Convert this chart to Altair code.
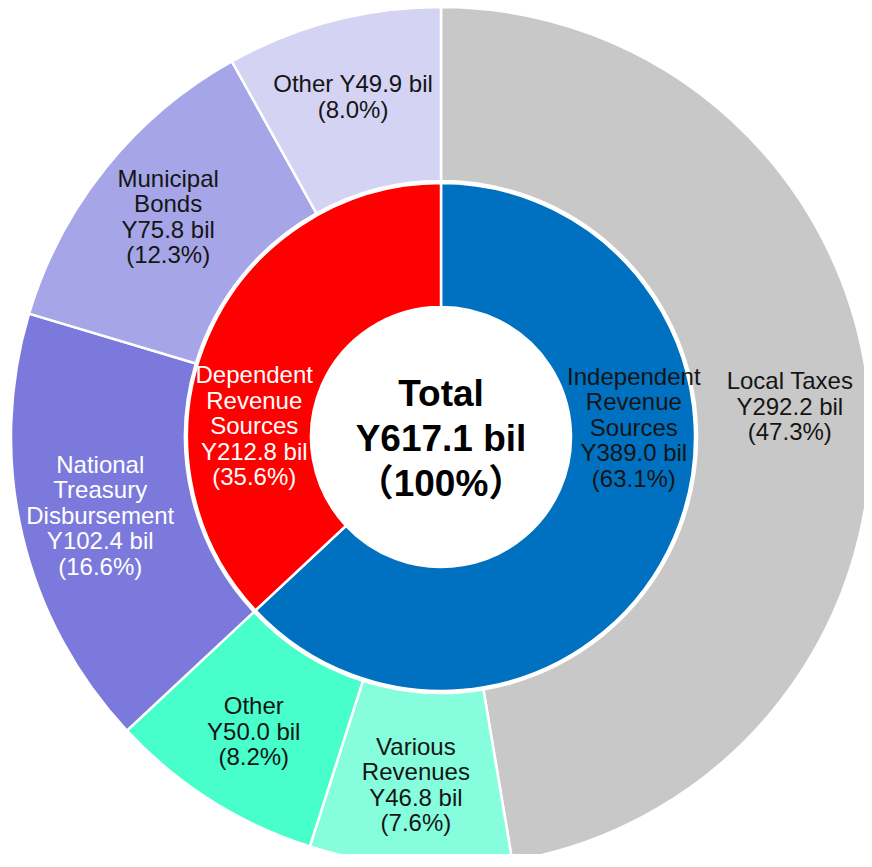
import math
import altair as alt
import pandas as pd

# ---- data ----
outer_keys = ["Local Taxes", "Various Revenues", "Other (independent)",
              "National Treasury Disbursement", "Municipal Bonds", "Other (dependent)"]
outer_values = [292.2, 46.8, 50.0, 102.4, 75.8, 49.9]
outer_shares = [47.3, 7.6, 8.2, 16.6, 12.3, 8.0]
outer_groups = ["Independent Revenue Sources"] * 3 + ["Dependent Revenue Sources"] * 3
outer_names = ["Local Taxes", "Various\nRevenues", "Other",
               "National\nTreasury\nDisbursement", "Municipal\nBonds", "Other"]
outer_seps = ["\n", "\n", "\n", "\n", "\n", " "]

inner_keys = ["Independent Revenue Sources", "Dependent Revenue Sources"]
inner_names = ["Independent\nRevenue\nSources", "Dependent\nRevenue\nSources"]
inner_values = [389.0, 212.8]
inner_shares = [63.1, 35.6]

total_text = "Total\nY617.1 bil\n（100%）"

# ---- colours ----
keys_all = outer_keys + inner_keys
colors_all = ["#C8C8C8", "#86FDDC", "#48FECB", "#7B79DC", "#A5A5E7", "#D4D3F4",
              "#0070C0", "#FF0000"]

FONT = "Liberation Sans, Arial, Noto Sans CJK JP, sans-serif"
FS = 24
LH = 25.5
CX, CY = 433, 429  # pie centre inside the view

outer_labels = [f"{n}{s}Y{v:.1f} bil\n({p:.1f}%)" for n, s, v, p in
                zip(outer_names, outer_seps, outer_values, outer_shares)]
outer_df = pd.DataFrame({
    "key": outer_keys,
    "value": outer_values,
    "group": outer_groups,
    "idx": list(range(len(outer_keys))),
    "gidx": [0, 0, 0, 1, 1, 1],
    "label": outer_labels,
    "nlines": [lab.count("\n") + 1 for lab in outer_labels],
})

inner_label_df = pd.DataFrame({
    "group": inner_keys,
    "label": [f"{n}\nY{v:.1f} bil\n({p:.1f}%)" for n, v, p in
              zip(inner_names, inner_values, inner_shares)],
})

color_scale = alt.Scale(domain=keys_all, range=colors_all)

base = alt.Chart(outer_df)

outer_arcs = base.mark_arc(radius=430, radius2=256, stroke="white", strokeWidth=2.5,
                           x=CX, y=CY).encode(
    theta=alt.Theta("value:Q", stack=True),
    order=alt.Order("idx:Q"),
    color=alt.Color("key:N", scale=color_scale, legend=None),
)

inner_arcs = base.transform_aggregate(
    total="sum(value)", groupby=["group", "gidx"]
).mark_arc(radius=254, radius2=130, stroke="white", strokeWidth=2.5,
           x=CX, y=CY).encode(
    theta=alt.Theta("total:Q", stack=True),
    order=alt.Order("gidx:Q"),
    color=alt.Color("group:N", scale=color_scale, legend=None),
)


def outer_text_layer(n):
    return base.transform_stack(
        stack="value", groupby=[], as_=["v0", "v1"], sort=[alt.SortField("idx")]
    ).transform_calculate(
        mid="(datum.v0 + datum.v1) / 2"
    ).transform_filter(
        alt.datum.nlines == n
    ).mark_text(
        radius=350, fontSize=FS, lineHeight=LH, lineBreak="\n", font=FONT,
        align="center", baseline="middle", dy=-(n - 1) / 2 * LH, x=CX, y=CY
    ).encode(
        theta=alt.Theta("mid:Q", stack=None),
        text="label:N",
        color=alt.condition(alt.datum.key == "National Treasury Disbursement",
                            alt.value("white"), alt.value("#151515")),
    )


outer_text_layers = [outer_text_layer(n) for n in sorted(set(outer_df["nlines"]))]

inner_text_ind = alt.Chart(inner_label_df).transform_filter(
    alt.datum.group == "Independent Revenue Sources"
).mark_text(
    theta=math.radians(87.6), radius=193, fontSize=FS, lineHeight=LH, lineBreak="\n",
    font=FONT, align="center", baseline="middle", color="#151515", dy=-2 * LH,
    x=CX, y=CY
).encode(text="label:N")

inner_text_dep = alt.Chart(inner_label_df).transform_filter(
    alt.datum.group == "Dependent Revenue Sources"
).mark_text(
    theta=math.radians(273), radius=187, fontSize=FS, lineHeight=LH, lineBreak="\n",
    font=FONT, align="center", baseline="middle", color="white", dy=-2 * LH,
    x=CX, y=CY
).encode(text="label:N")

center_text = alt.Chart(pd.DataFrame({"t": [total_text]})).mark_text(
    fontSize=37, fontWeight="bold", lineHeight=45, lineBreak="\n", font=FONT,
    align="center", baseline="middle", color="black", dy=-45 + 3, x=CX, y=CY
).encode(text="t:N")

chart = alt.layer(
    outer_arcs, inner_arcs, *outer_text_layers, inner_text_ind, inner_text_dep, center_text
).properties(
    width=856, height=846, padding=0, autosize=alt.AutoSizeParams(type="none")
).configure_view(stroke=None)

chart.save("out.html", embed_options={"renderer": "svg", "actions": False})
